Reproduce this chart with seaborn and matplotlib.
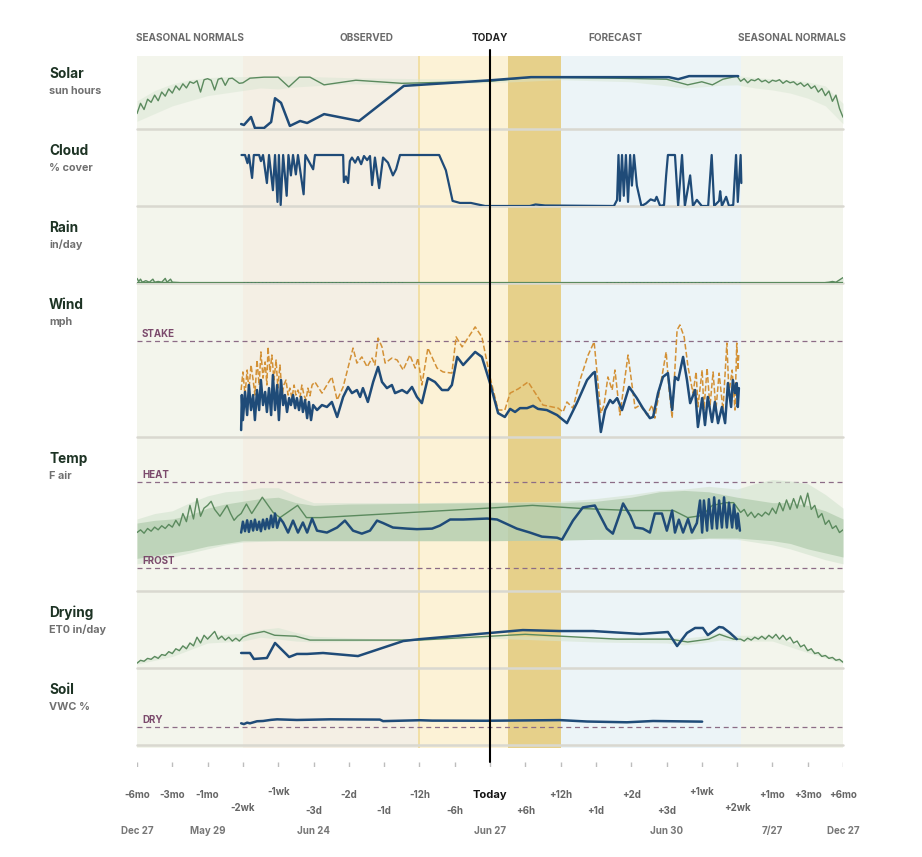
import matplotlib.pyplot as plt
import seaborn as sns

# ------------------------ data ------------------------
# x axis: index positions on a stretched time scale (0 = -6mo, 10 = today, 20 = +6mo)
tick_labels = ['-6mo', '-3mo', '-1mo', '-2wk', '-1wk', '-3d', '-2d', '-1d', '-12h', '-6h', 'Today',
               '+6h', '+12h', '+1d', '+2d', '+3d', '+1wk', '+2wk', '+1mo', '+3mo', '+6mo']
date_pos = [0, 2, 5, 10, 15, 18, 20]
date_labels = ['Dec 27', 'May 29', 'Jun 24', 'Jun 27', 'Jun 30', '7/27', 'Dec 27']

# regions of the time axis
region_edges = [0, 3, 8, 10.5, 12, 17.1, 20]
header_pos = [1.5, 6.5, 10, 13.55, 18.55]
header_labels = ['SEASONAL NORMALS', 'OBSERVED', 'TODAY', 'FORECAST', 'SEASONAL NORMALS']

panel_names = ['Solar', 'Cloud', 'Rain', 'Wind', 'Temp', 'Drying', 'Soil']
panel_units = ['sun hours', '% cover', 'in/day', 'mph', 'F air', 'ET0 in/day', 'VWC %']

# Solar (sun hours)
solar_norm_x = [0.0, 0.1, 0.2, 0.3, 0.4, 0.5, 0.6, 0.7, 0.8, 0.9, 1.0, 1.1, 1.2, 1.3, 1.4, 1.5, 1.6, 1.7,
                1.8, 1.9, 2.0, 2.1, 2.2, 2.3, 2.4, 2.5, 2.6, 2.7, 2.8, 2.9, 3.0,
                3.2, 3.6, 4.0, 4.3, 4.6, 4.9, 5.3, 6.2, 7.5, 10.0, 11.2, 13.5, 15.0, 15.6, 16.0, 16.3, 16.6, 17.0,
                17.1, 17.2, 17.3, 17.4, 17.5, 17.6, 17.7, 17.8, 17.9, 18.0, 18.1, 18.2, 18.3, 18.4, 18.5,
                18.6, 18.7, 18.8, 18.9, 19.0, 19.1, 19.2, 19.3, 19.4, 19.5, 19.6, 19.7, 19.8, 19.9, 20.0]
solar_norm = [3.0, 5.0, 3.8, 5.8, 5.2, 6.6, 5.5, 7.2, 6.4, 7.8, 7.0, 8.4, 7.6, 8.8, 8.0, 9.2, 8.9, 9.4,
              7.2, 9.6, 9.8, 9.5, 7.6, 9.7, 9.9, 8.5, 9.8, 9.9, 9.4, 8.9, 9.0,
              9.9, 10.1, 10.1, 8.2, 10.1, 10.1, 8.6, 9.5, 8.9, 9.3, 10.1, 9.9, 9.7, 8.6, 9.2, 8.6, 9.7, 10.3,
              9.3, 9.8, 9.0, 9.6, 9.4, 9.8, 9.2, 9.5, 9.0, 9.5, 9.3, 9.6, 8.9, 9.4, 9.0,
              9.2, 8.6, 9.0, 8.3, 8.8, 7.9, 8.4, 7.2, 7.9, 6.5, 7.4, 5.4, 6.6, 4.0, 2.3]
solar_band_x = [0, 0.5, 1, 1.5, 2, 2.5, 3, 3.5, 4, 4.5, 5, 6, 8, 10, 12, 14, 15, 15.5, 16, 16.5, 17,
                17.5, 18, 18.5, 19, 19.5, 20]
solar_band_hi = [5.5, 7.5, 8.8, 9.6, 10.0, 10.2, 10.2, 10.3, 10.3, 10.3, 10.2, 10.0, 9.8, 9.8, 10.0, 10.0,
                 9.9, 9.8, 9.9, 10.2, 10.4, 10.0, 9.8, 9.6, 9.2, 8.4, 5.0]
solar_band_lo = [1.5, 3.0, 4.5, 5.5, 6.5, 7.0, 7.5, 8.0, 7.8, 8.2, 8.4, 8.8, 8.6, 9.0, 9.6, 9.2,
                 8.4, 8.0, 8.2, 8.5, 8.6, 8.0, 7.6, 7.0, 6.0, 4.5, 1.0]
solar_obs_x = [2.95, 3.03, 3.23, 3.34, 3.60, 3.80, 3.91, 4.08, 4.33, 4.62, 4.82, 5.30, 6.29, 7.56,
               10.03, 11.16, 15.07, 15.33, 15.64, 17.03]
solar_obs = [0.97, 0.78, 2.34, 0.2, 0.2, 1.36, 6.0, 5.1, 0.6, 1.56, 1.17, 2.9, 1.56, 8.4,
             9.5, 10.1, 10.1, 9.7, 10.3, 10.3]

# Cloud (% cover)
cloud_x = [2.96, 3.06, 3.13, 3.17, 3.26, 3.31, 3.46, 3.51, 3.57, 3.68, 3.74, 3.85, 3.91, 3.98, 4.02, 4.07,
           4.14, 4.24, 4.29, 4.36, 4.42, 4.50, 4.56, 4.72, 4.77, 4.99, 5.04, 5.84, 5.86, 5.92, 5.98, 6.03,
           6.09, 6.18, 6.26, 6.35, 6.43, 6.52, 6.60, 6.66, 6.74, 6.86, 6.97, 7.11, 7.25, 7.34, 7.45, 8.56,
           8.75, 8.94, 9.15, 9.46, 9.86, 11.13, 11.29, 11.56, 13.51, 13.60, 13.64, 13.68, 13.74, 13.79,
           13.85, 13.91, 13.97, 14.02, 14.08, 14.16, 14.29, 14.42, 14.55, 14.67, 14.72, 14.82, 14.93,
           14.99, 15.04, 15.24, 15.33, 15.44, 15.52, 15.67, 15.75, 15.86, 16.0, 16.18, 16.28, 16.35,
           16.49, 16.52, 16.57, 16.69, 16.77, 16.89, 16.97, 17.02, 17.10, 17.12]
cloud = [100, 100, 84, 100, 55, 100, 100, 88, 100, 45, 100, 31, 100, 8, 100, 2,
         100, 20, 100, 60, 100, 62, 100, 23, 100, 72, 100, 100, 47, 58, 45, 88,
         95, 85, 96, 82, 98, 90, 98, 41, 95, 35, 95, 85, 60, 72, 100, 100,
         70, 10, 6, 6, 0, 0, 3, 1, 0, 12, 100, 10, 100, 20,
         100, 8, 100, 40, 100, 40, 0, 5, 13, 10, 18, 0, 2,
         60, 100, 100, 0, 100, 0, 60, 0, 12, 0, 0, 100, 0,
         10, 29, 0, 18, 0, 2, 100, 8, 100, 45]

# Rain (in/day)
rain_left_x = [0.0, 0.05, 0.1, 0.15, 0.25, 0.35, 0.45, 0.5, 0.6, 0.7, 0.8, 0.85, 0.95, 1.0, 1.2]
rain_left = [0.06, 0.02, 0.05, 0.01, 0.03, 0.01, 0.05, 0.01, 0.02, 0.01, 0.06, 0.01, 0.05, 0.01, 0.005]
rain_right_x = [19.5, 19.6, 19.7, 19.8, 19.9, 20.0]
rain_right = [0.005, 0.01, 0.02, 0.01, 0.04, 0.07]
rain_flat_x = [0, 20]
rain_flat = [0.005, 0.005]
rain_obs_x = [3.0, 7.6, 13.3, 17.1]
rain_obs = [0.0, 0.0, 0.0, 0.0]

# Wind (mph): sustained and gusts
wind_x = [2.95, 2.97, 3.00, 3.06, 3.12, 3.17, 3.23, 3.29, 3.34, 3.40, 3.46, 3.51, 3.57, 3.63, 3.68, 3.74,
          3.80, 3.85, 3.91, 3.97, 4.02, 4.08, 4.14, 4.19, 4.25, 4.31, 4.36, 4.42, 4.48, 4.53, 4.59, 4.65,
          4.70, 4.76, 4.82, 4.87, 4.93, 4.99, 5.10, 5.24, 5.38, 5.52, 5.67, 5.84, 5.98, 6.09, 6.23, 6.32,
          6.40, 6.54, 6.69, 6.83, 6.94, 7.08, 7.22, 7.31, 7.51, 7.65, 7.79, 7.93, 8.07, 8.24, 8.44, 8.64,
          8.81, 8.92, 9.07, 9.24, 9.58, 9.77, 10.0, 10.23, 10.42, 10.57, 10.71, 10.85, 11.05, 11.22, 11.36,
          11.61, 11.90, 12.18, 12.46, 12.75, 12.92, 12.97, 13.14, 13.26, 13.40, 13.48, 13.60, 13.74, 13.94,
          14.16, 14.33, 14.53, 14.62, 14.76, 14.90, 15.04, 15.16, 15.24, 15.33, 15.47, 15.58, 15.67, 15.81,
          15.89, 16.01, 16.09, 16.17, 16.29, 16.37, 16.46, 16.57, 16.66, 16.74, 16.83, 16.88, 16.94, 16.99,
          17.02, 17.05]
wind = [1.8, 10.9, 4.4, 11.7, 5.7, 13.5, 7.0, 10.9, 4.4, 12.2, 7.0, 14.8, 8.3, 11.7, 6.5, 12.7,
        5.7, 16.1, 7.0, 13.5, 4.4, 14.8, 8.3, 10.9, 6.5, 10.1, 8.3, 10.9, 7.5, 10.1, 7.0, 10.4,
        6.5, 9.6, 4.9, 9.1, 4.4, 8.3, 7.0, 8.3, 7.8, 9.1, 5.2, 10.4, 13.0, 11.4, 12.2, 10.4,
        12.7, 9.1, 14.3, 18.2, 14.3, 12.7, 13.5, 11.4, 12.2, 11.4, 13.0, 10.4, 8.8, 15.3, 14.3, 12.2,
        12.2, 13.5, 20.8, 18.7, 22.1, 20.8, 14.0, 6.2, 5.2, 7.3, 6.5, 7.5, 7.5, 8.1, 7.3,
        7.0, 5.7, 3.6, 8.8, 14.8, 16.6, 16.9, 1.3, 7.0, 9.6, 8.8, 10.1, 7.0, 13.0,
        10.1, 7.5, 4.9, 5.2, 11.4, 15.6, 16.6, 7.0, 15.6, 14.8, 20.8, 14.8, 8.8, 12.2,
        2.6, 10.1, 3.1, 10.4, 3.9, 9.1, 3.6, 7.8, 3.6, 14.0, 7.8, 14.8, 11.4, 14.0,
        7.8, 12.7]
gust_x = [2.95, 3.00, 3.06, 3.12, 3.17, 3.23, 3.29, 3.34, 3.40, 3.46, 3.51, 3.57, 3.63, 3.68, 3.71, 3.77,
          3.82, 3.88, 3.94, 3.99, 4.05, 4.11, 4.16, 4.22, 4.28, 4.33, 4.39, 4.45, 4.50, 4.56, 4.62, 4.67,
          4.73, 4.79, 4.84, 4.90, 4.96, 5.04, 5.24, 5.52, 5.67, 5.84, 6.12, 6.23, 6.37, 6.52, 6.66, 6.74,
          6.83, 6.94, 7.03, 7.22, 7.37, 7.54, 7.73, 7.88, 7.96, 8.07, 8.24, 8.50, 8.67, 8.92, 9.04, 9.21,
          9.58, 9.77, 10.0, 10.23, 10.42, 10.57, 10.80, 11.08, 11.50, 11.93, 12.07, 12.18, 12.35, 12.55,
          12.78, 12.95, 13.14, 13.23, 13.34, 13.46, 13.54, 13.68, 13.91, 14.11, 14.25, 14.45, 14.59, 14.67,
          14.82, 14.99, 15.07, 15.16, 15.30, 15.38, 15.50, 15.61, 15.75, 15.84, 15.89, 16.01, 16.06, 16.15,
          16.23, 16.32, 16.40, 16.49, 16.60, 16.71, 16.77, 16.86, 16.94, 16.99, 17.02, 17.05]
gust = [12.2, 16.9, 10.9, 17.4, 12.2, 18.7, 14.8, 10.9, 20.0, 13.5, 22.1, 15.3, 19.5, 13.5, 23.4, 16.9,
        21.3, 14.8, 20.0, 12.7, 18.7, 10.9, 13.5, 14.8, 10.9, 12.7, 10.1, 13.5, 10.9, 12.2, 10.4, 13.5,
        10.9, 9.6, 12.7, 10.7, 13.5, 14.3, 11.4, 15.6, 9.6, 13.0, 23.1, 19.2, 20.8, 18.2, 20.5, 18.7,
        25.7, 23.4, 19.2, 20.5, 20.0, 17.4, 21.3, 17.9, 20.5, 13.5, 23.1, 17.9, 16.9, 16.6, 26.0, 23.4,
        28.6, 26.0, 15.6, 7.0, 7.0, 11.4, 12.5, 14.3, 8.3, 7.5, 6.5, 9.1, 7.5, 14.8,
        21.3, 24.7, 6.2, 8.3, 15.6, 12.2, 17.4, 5.7, 21.3, 7.5, 8.3, 5.7, 8.3, 4.9,
        13.0, 22.1, 12.7, 4.9, 27.8, 29.1, 26.0, 18.2, 11.4, 16.9, 7.8, 17.4, 7.0, 17.9,
        7.8, 16.9, 7.0, 16.6, 7.0, 24.4, 11.4, 17.4, 7.0, 24.4, 17.4, 21.8]
wind_stake = 25

# Temp (F air)
temp_norm_x = [0.0, 0.1, 0.2, 0.3, 0.4, 0.5, 0.6, 0.7, 0.8, 0.9, 1.0, 1.1, 1.2, 1.3, 1.4, 1.5, 1.6, 1.7,
               1.8, 1.9, 2.0, 2.1, 2.2, 2.35, 2.45, 2.55, 2.65, 2.75, 2.85, 2.95,
               3.1, 3.25, 3.55, 3.85, 4.05, 4.55, 4.8, 5.2, 10.3, 11.2, 12.6, 14.0, 15.2, 15.6, 16.0, 16.3,
               16.7, 16.9, 17.1, 17.2, 17.3, 17.4, 17.5, 17.6, 17.7, 17.8, 17.9, 18.0, 18.1, 18.2, 18.3,
               18.4, 18.5, 18.6, 18.7, 18.8, 18.9, 19.0, 19.1, 19.2, 19.3, 19.4, 19.5, 19.6, 19.7, 19.8,
               19.9, 20.0]
temp_norm = [58, 60, 57.5, 61, 59, 62, 60, 63, 61, 64, 62, 67, 63, 72, 66, 78, 68, 83,
             70, 76, 78, 81, 75, 70, 74, 78, 72, 67, 70, 72,
             79, 72, 84, 73, 69, 78, 69, 69, 76.5, 78, 75.7, 74.2, 74.2, 69, 70.5, 78,
             80, 80, 72.8, 75, 70, 73, 69, 72, 70, 73, 71, 76, 72, 80, 74,
             82, 75, 83, 76, 85, 77, 87, 75, 78, 69, 72, 64, 67, 61, 63,
             58, 60]
temp_band_x = [0, 0.5, 1, 1.5, 2, 2.5, 3, 3.5, 4, 4.5, 5, 6, 8, 10, 12, 13, 14, 14.8, 15.5, 16.2, 17,
               17.5, 18, 18.5, 19, 19.5, 20]
temp_band_hi = [65, 67, 68, 71, 76, 79, 81, 83, 84, 80, 78, 79, 79.5, 80, 80, 81, 84, 88, 89, 88, 84,
                82, 80, 80, 78, 74, 68]
temp_band_lo = [39, 41, 43, 45, 48, 50, 52, 52, 52, 52, 52, 52, 52, 52, 52.5, 53, 53, 53, 53, 54, 54,
                53, 52, 50, 46, 43, 40]
temp_range_hi = [68, 72, 74, 80, 85, 88, 89, 91, 91, 85, 80, 80, 80, 80.5, 81, 83, 86, 89, 90, 92, 90,
                 94, 97, 96, 94, 86, 76]
temp_range_lo = [35, 37, 40, 43, 46, 49, 51, 51.5, 52, 52, 52, 52, 52, 52, 52.5, 53, 53, 53, 53, 53.5, 53,
                 51, 49, 46, 42, 38, 35]
temp_obs_x = [2.95, 3.00, 3.06, 3.12, 3.17, 3.23, 3.29, 3.34, 3.40, 3.46, 3.51, 3.57, 3.63, 3.68, 3.74,
              3.80, 3.85, 3.91, 3.97, 4.05, 4.14, 4.28, 4.42, 4.56, 4.70, 4.82, 4.96, 5.10, 5.38, 5.67,
              5.89, 6.12, 6.37, 6.60, 6.80, 6.97, 7.25, 7.65, 7.93, 8.36, 8.58, 8.87, 9.24, 9.92, 10.20,
              10.76, 11.13, 11.47, 11.90, 12.04, 12.35, 12.63, 12.97, 13.31, 13.48, 13.68, 13.77, 13.97,
              14.11, 14.33, 14.53, 14.67, 14.87, 15.01, 15.16, 15.24, 15.35, 15.47, 15.61, 15.72, 15.86,
              15.95, 16.01, 16.06, 16.15, 16.20, 16.29, 16.35, 16.43, 16.49, 16.57, 16.63, 16.71, 16.77,
              16.86, 16.91, 16.99, 17.02, 17.08]
temp_obs = [58.0, 66.0, 59.0, 67.0, 58.5, 66.5, 59.5, 67.5, 60.0, 66.0, 59.0, 67.5, 60.5, 68.0, 61.0,
            70.5, 62.0, 72.0, 61.5, 68.5, 65.4, 58.0, 66.8, 58.0, 65.4, 58.0, 68.3, 59.4, 58.0, 61.7,
            66.8, 59.4, 57.2, 59.4, 66.8, 65.0, 61.7, 60.9, 60.5, 60.9, 63.1, 67.6, 67.6, 68.3, 67.6,
            60.9, 58.0, 55.0, 54.2, 52.8, 66.8, 76.5, 77.9, 60.9, 57.2, 72.0, 79.4, 70.5,
            61.7, 60.9, 58.0, 72.0, 72.0, 59.4, 74.2, 58.0, 67.5, 58.0, 68.0, 58.0, 65.0,
            81.6, 58.0, 81.6, 59.4, 82.5, 61.0, 83.9, 61.0, 81.6, 61.7, 83.9, 61.7, 80.0,
            61.7, 78.5, 61.0, 72.0, 59.4]
temp_heat = 95
temp_frost = 32

# Drying (ET0 in/day)
dry_norm_x = [0.0, 0.1, 0.2, 0.3, 0.4, 0.5, 0.6, 0.7, 0.8, 0.9, 1.0, 1.1, 1.2, 1.3, 1.4, 1.5, 1.6, 1.7,
              1.8, 1.9, 2.0, 2.1, 2.2, 2.3, 2.4, 2.5, 2.6, 2.7, 2.8, 2.9, 3.0,
              3.2, 3.6, 3.9, 4.5, 4.9, 7.5, 8.0, 10.0, 11.0, 13.6, 15.1, 15.6, 16.2, 16.5, 16.9, 17.1,
              17.2, 17.3, 17.4, 17.5, 17.6, 17.7, 17.8, 17.9, 18.0, 18.1, 18.2, 18.3, 18.4, 18.5, 18.6,
              18.7, 18.8, 18.9, 19.0, 19.1, 19.2, 19.3, 19.4, 19.5, 19.6, 19.7, 19.8, 19.9, 20.0]
dry_norm = [0.025, 0.04, 0.035, 0.05, 0.045, 0.06, 0.05, 0.07, 0.065, 0.085, 0.075, 0.10, 0.09, 0.115,
            0.10, 0.13, 0.115, 0.16, 0.13, 0.17, 0.15, 0.17, 0.19, 0.15, 0.165, 0.145, 0.16, 0.14, 0.155,
            0.14, 0.16,
            0.175, 0.19, 0.17, 0.165, 0.145, 0.145, 0.145, 0.165, 0.175, 0.15, 0.15, 0.135, 0.15, 0.175,
            0.15, 0.15,
            0.14, 0.155, 0.145, 0.16, 0.15, 0.165, 0.15, 0.17, 0.155, 0.175, 0.15, 0.17, 0.145, 0.16, 0.13,
            0.14, 0.11, 0.12, 0.09, 0.10, 0.075, 0.08, 0.06, 0.065, 0.05, 0.055, 0.04, 0.045, 0.03]
dry_band_x = [0, 1, 2, 3, 3.5, 4, 4.5, 5, 7, 10, 13, 15, 15.5, 16, 16.5, 17, 18, 19, 20]
dry_band_hi = [0.035, 0.09, 0.17, 0.18, 0.2, 0.21, 0.185, 0.165, 0.15, 0.17, 0.16, 0.16, 0.155, 0.165,
               0.185, 0.17, 0.17, 0.10, 0.04]
dry_band_lo = [0.02, 0.06, 0.13, 0.14, 0.16, 0.15, 0.14, 0.135, 0.14, 0.155, 0.135, 0.13, 0.12, 0.13,
               0.145, 0.14, 0.14, 0.08, 0.025]
dry_obs_x = [2.95, 3.20, 3.31, 3.68, 3.91, 4.31, 4.53, 4.82, 5.27, 6.26, 7.54, 8.02, 10.0, 10.93, 11.98,
             12.92, 14.25, 15.04, 15.30, 15.58, 15.81, 16.03, 16.17, 16.49, 16.60, 16.80, 16.99]
dry_obs = [0.078, 0.078, 0.047, 0.052, 0.13, 0.057, 0.073, 0.073, 0.078, 0.062, 0.14, 0.150, 0.182, 0.197,
           0.192, 0.192, 0.177, 0.187, 0.114, 0.182, 0.208, 0.208, 0.171, 0.213, 0.21, 0.182, 0.150]

# Soil (VWC %)
soil_x = [2.95, 3.03, 3.12, 3.20, 3.40, 3.57, 3.80, 3.97, 4.53, 5.47, 6.88, 6.97, 8.02, 8.36, 9.92,
          11.98, 12.75, 13.88, 14.62, 16.01]
soil = [16.9, 16.3, 17.4, 16.9, 18.5, 18.7, 19.6, 20.0, 19.5, 20.0, 19.8, 18.6, 19.3, 19.0, 18.9,
        19.4, 18.3, 17.7, 18.7, 18.2]
soil_dry = 14

# ------------------------ style ------------------------
sns.set_theme(style='white')
plt.rcParams['font.family'] = ['Inter', 'DejaVu Sans']

region_colors = ['#f3f5ec', '#f4efe4', '#fcf2d6', '#e6d08a', '#ecf4f7', '#f3f5ec']
blue = '#1f4b78'
orange = '#d39136'
green = '#5b8a5e'
band_light = '#d6e5d1'
grid_grey = '#d9d8d0'
ref_col = '#8c6c86'
ref_text = '#7b4a6c'

W, H = 922, 857
fig = plt.figure(figsize=(W / 100, H / 100), dpi=100)
L, R = 137 / W, 843 / W

# background regions
bg = fig.add_axes([L, 1 - 748 / H, R - L, 692 / H])
bg.set_xlim(0, 20)
bg.set_ylim(0, 1)
bg.axis('off')
for i in range(len(region_colors)):
    bg.axvspan(region_edges[i], region_edges[i + 1], color=region_colors[i], lw=0)
bg.axvline(region_edges[2], color='#f1dc9a', lw=1.2)
for pos, lab in zip(header_pos, header_labels):
    bg.annotate(lab, xy=(pos, 1), xycoords=bg.get_xaxis_transform(), xytext=(0, 18),
                textcoords='offset pixels', ha='center', va='center', fontsize=7.2,
                fontweight='bold', color='#222222' if lab == 'TODAY' else '#6b6b6b')

# panels
gs = fig.add_gridspec(7, 1, height_ratios=[1, 1, 1, 2, 2, 1, 1], left=L, right=R,
                      top=1 - 52 / H, bottom=1 - 745 / H, hspace=0)
ylims = [(0, 15), (0, 151), (0, 1), (0, 40), (15, 128.3), (0, 0.4), (0, 60)]
axes = []
for i in range(7):
    ax = fig.add_subplot(gs[i])
    ax.set_zorder(1)
    ax.patch.set_visible(False)
    ax.set_xlim(0, 20)
    ax.set_ylim(*ylims[i])
    ax.axis('off')
    ax.axhline(ylims[i][0], color=grid_grey, lw=1.8, clip_on=False, zorder=1)
    ax.annotate(panel_names[i], xy=(49 / W, 1), xycoords=('figure fraction', 'axes fraction'),
                xytext=(0, -22), textcoords='offset pixels', ha='left', va='center',
                fontsize=9.8, fontweight='bold', color='#1d3324')
    ax.annotate(panel_units[i], xy=(49 / W, 1), xycoords=('figure fraction', 'axes fraction'),
                xytext=(0, -39), textcoords='offset pixels', ha='left', va='center',
                fontsize=7.8, fontweight='bold', color='#707070')
    axes.append(ax)

def line(ax, x, y, color, lw, **kw):
    sns.lineplot(x=x, y=y, ax=ax, color=color, lw=lw, sort=False, estimator=None, legend=False, **kw)

def ref_line(ax, val, label):
    ax.axhline(val, color=ref_col, lw=0.9, dashes=(4, 3), zorder=1)
    ax.annotate(label, xy=(0.14, val), xytext=(0, 2), textcoords='offset pixels',
                ha='left', va='bottom', fontsize=7, fontweight='bold', color=ref_text)

ax_solar, ax_cloud, ax_rain, ax_wind, ax_temp, ax_dry, ax_soil = axes

ax_solar.fill_between(solar_band_x, solar_band_lo, solar_band_hi, color=band_light, alpha=0.45, lw=0)
line(ax_solar, solar_norm_x, solar_norm, green, 1.0)
line(ax_solar, solar_obs_x, solar_obs, blue, 1.8)

line(ax_cloud, cloud_x, cloud, blue, 1.6)

ax_rain.fill_between(rain_left_x, rain_left, 0, color=band_light, alpha=0.8, lw=0)
ax_rain.fill_between(rain_right_x, rain_right, 0, color=band_light, alpha=0.8, lw=0)
line(ax_rain, rain_flat_x, rain_flat, green, 1.6)
line(ax_rain, rain_left_x, rain_left, green, 1.0)
line(ax_rain, rain_right_x, rain_right, green, 1.0)
line(ax_rain, rain_obs_x[:2], rain_obs[:2], blue, 1.0, linestyle=':')
line(ax_rain, rain_obs_x[2:], rain_obs[2:], blue, 1.0, linestyle=':')

ref_line(ax_wind, wind_stake, 'STAKE')
line(ax_wind, gust_x, gust, orange, 1.1, linestyle='--')
line(ax_wind, wind_x, wind, blue, 1.8)

ref_line(ax_temp, temp_heat, 'HEAT')
ref_line(ax_temp, temp_frost, 'FROST')
ax_temp.fill_between(temp_band_x, temp_range_lo, temp_range_hi, color='#d3e3cf', alpha=0.6, lw=0)
ax_temp.fill_between(temp_band_x, temp_band_lo, temp_band_hi, color='#a9c6a5', alpha=0.6, lw=0)
line(ax_temp, temp_norm_x, temp_norm, green, 1.0)
line(ax_temp, temp_obs_x, temp_obs, blue, 1.8)

ax_dry.fill_between(dry_band_x, dry_band_lo, dry_band_hi, color=band_light, alpha=0.55, lw=0)
line(ax_dry, dry_norm_x, dry_norm, green, 1.0)
line(ax_dry, dry_obs_x, dry_obs, blue, 1.8)

ref_line(ax_soil, soil_dry, 'DRY')
line(ax_soil, soil_x, soil, blue, 1.8)

# today line and time axis on top
top = fig.add_axes([L, 1 - 748 / H, R - L, 692 / H])
top.set_zorder(3)
top.patch.set_visible(False)
top.set_xlim(0, 20)
top.set_ylim(0, 1)
top.axis('off')
top.axvline(10, ymin=-14 / 692, ymax=698 / 692, color='black', lw=1.5, clip_on=False)

tick_ax = fig.add_axes([L, 1 - 767 / H, R - L, 5 / H])
tick_ax.set_xlim(0, 20)
tick_ax.set_ylim(0, 1)
tick_ax.axis('off')
tick_ax.vlines(range(len(tick_labels)), 0, 1, color='#bdbdbd', lw=1)
row_offset = [28, 28, 28, 41, 25, 44, 28, 44, 28, 44, 28, 44, 28, 44, 28, 44, 25, 41, 28, 28, 28]
for i, lab in enumerate(tick_labels):
    is_today = lab == 'Today'
    tick_ax.annotate(lab, xy=(i, 0), xycoords=tick_ax.get_xaxis_transform(), xytext=(0, -row_offset[i]),
                     textcoords='offset pixels', ha='center', va='center',
                     fontsize=8 if is_today else 7, fontweight='bold',
                     color='#111111' if is_today else '#666666')
for pos, lab in zip(date_pos, date_labels):
    tick_ax.annotate(lab, xy=(pos, 0), xycoords=tick_ax.get_xaxis_transform(), xytext=(0, -64),
                     textcoords='offset pixels', ha='center', va='center', fontsize=7,
                     fontweight='bold', color='#777777')

fig.savefig('out.png', dpi=100, facecolor='white')
